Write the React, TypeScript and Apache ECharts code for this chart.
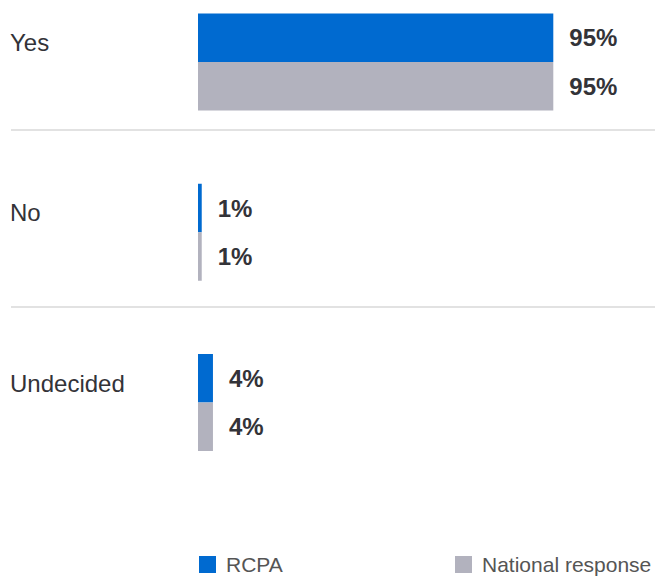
import React, { useEffect, useRef } from "react";
import * as echarts from "echarts";

const categories = ["Yes", "No", "Undecided"];
const rcpaValues = [95, 1, 4];
const nationalValues = [95, 1, 4];
const seriesNames = ["RCPA", "National response"];

const FONT = "'Liberation Sans', Arial, Helvetica, sans-serif";
const BLUE = "#006AD0";
const GRAY = "#B2B2BE";

export default function App() {
  const ref = useRef<HTMLDivElement>(null);

  useEffect(() => {
    if (!ref.current) return;
    const chart = echarts.init(ref.current, undefined, { renderer: "svg" });
    const valueLabel = {
      show: true,
      position: "right" as const,
      distance: 16,
      formatter: "{c}%",
      fontFamily: FONT,
      fontSize: 24,
      fontWeight: "bold" as const,
      color: "#333338",
    };
    const legendBase = {
      top: 554,
      padding: 0,
      itemWidth: 17,
      itemHeight: 17,
      icon: "rect",
      selectedMode: false,
      textStyle: {
        fontFamily: FONT,
        fontSize: 21,
        lineHeight: 21,
        color: "#555555",
        padding: [0, 0, 0, 5],
      },
    };
    chart.setOption({
      animation: false,
      textStyle: { fontFamily: FONT },
      grid: { left: 198, top: 62, width: 374, height: 340.5, containLabel: false },
      xAxis: {
        type: "value",
        min: 0,
        max: 100,
        show: false,
        splitLine: { show: false },
      },
      yAxis: {
        type: "category",
        data: categories,
        inverse: true,
        boundaryGap: false,
        axisLine: { show: false },
        axisTick: { show: false },
        splitLine: { show: false },
        axisLabel: {
          align: "left",
          margin: 188,
          fontFamily: FONT,
          fontSize: 24,
          color: "#333338",
          verticalAlign: "bottom",
          lineHeight: 39,
        },
      },
      legend: [
        { ...legendBase, data: [seriesNames[0]], left: 199 },
        { ...legendBase, data: [seriesNames[1]], left: 455 },
      ],
      graphic: [
        {
          type: "line",
          shape: { x1: 11, y1: 130, x2: 655, y2: 130 },
          style: { stroke: "#e2e2e2", lineWidth: 2 },
          silent: true,
        },
        {
          type: "line",
          shape: { x1: 11, y1: 307, x2: 655, y2: 307 },
          style: { stroke: "#e2e2e2", lineWidth: 2 },
          silent: true,
        },
      ],
      series: [
        {
          name: seriesNames[0],
          type: "bar",
          data: rcpaValues,
          barWidth: 48.5,
          barGap: "0%",
          itemStyle: { color: BLUE },
          label: valueLabel,
        },
        {
          name: seriesNames[1],
          type: "bar",
          data: nationalValues,
          barWidth: 48.5,
          barGap: "0%",
          itemStyle: { color: GRAY },
          label: valueLabel,
        },
      ],
    });
    return () => chart.dispose();
  }, []);

  return (
    <div
      ref={ref}
      style={{ position: "fixed", left: 0, top: 0, width: 655, height: 576, background: "#ffffff" }}
    />
  );
}
